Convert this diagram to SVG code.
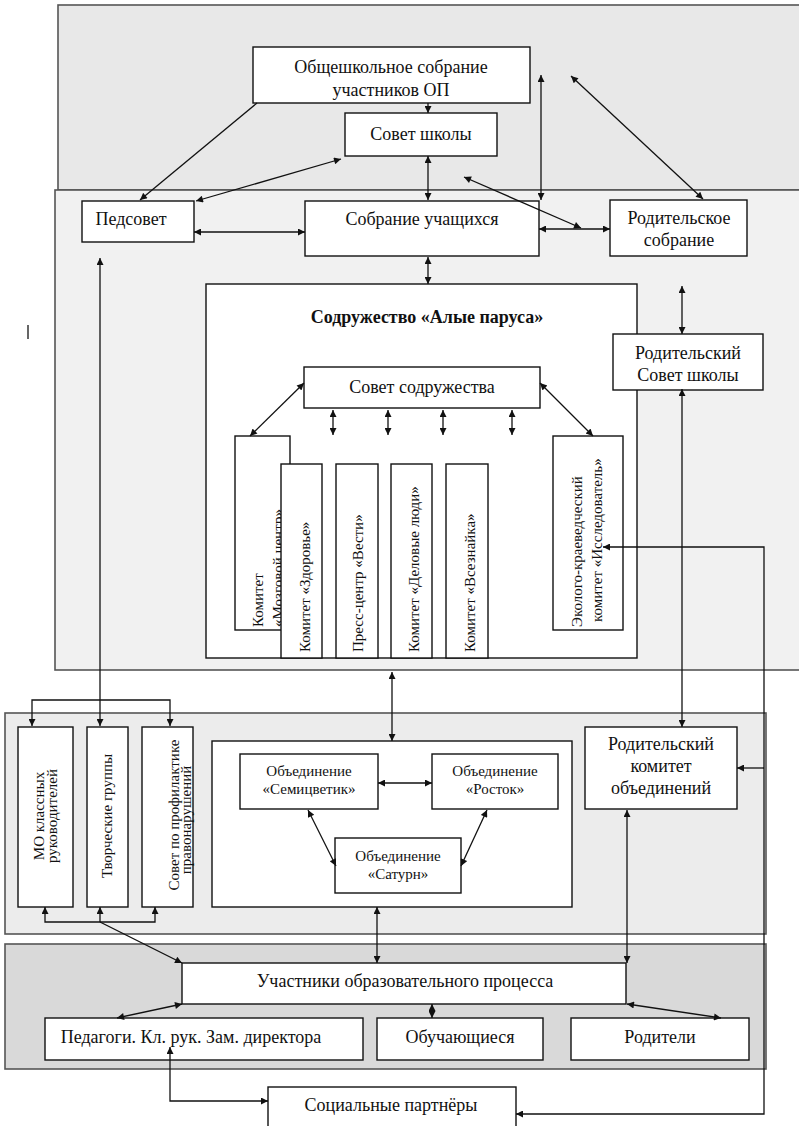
<svg xmlns="http://www.w3.org/2000/svg" width="799" height="1126" viewBox="0 0 799 1126">
<style>
.box{fill:#fff;stroke:#111;stroke-width:1.4}
.panel{stroke:#555;stroke-width:1.6}
.t{font-family:"Liberation Serif","Times New Roman",serif;font-size:18px;fill:#111;text-anchor:middle}
.s{font-family:"Liberation Serif","Times New Roman",serif;font-size:15px;fill:#111}
.m{text-anchor:middle}
.b{font-weight:bold;font-size:18px}
.c{fill:none;stroke:#111;stroke-width:1.3}
.d{marker-start:url(#ah);marker-end:url(#ah)}
.e{marker-end:url(#ah)}
</style>
<defs>
<marker id="ah" viewBox="0 0 10 10" refX="10" refY="5" markerWidth="9" markerHeight="7" markerUnits="userSpaceOnUse" orient="auto-start-reverse">
<path d="M0,0 L10,5 L0,10 z" fill="#111"/>
</marker>
</defs>
<rect width="799" height="1126" fill="#fff"/>
<g id="panels">
<rect class="panel" x="58" y="5" width="750" height="185" fill="#e8e8e8"/>
<rect class="panel" x="55" y="190" width="760" height="480" fill="#f1f1f1"/>
<rect class="panel" x="5" y="713" width="761" height="221" fill="#ececec"/>
<rect class="panel" x="5" y="944" width="761" height="125" fill="#d9d9d9"/>
<line x1="28" y1="325" x2="28" y2="339" stroke="#333" stroke-width="1.5"/>
</g>
<g id="n-obshch"><rect class="box" x="253" y="47" width="277" height="56"/><text class="t" x="391" y="73">Общешкольное собрание</text><text class="t" x="391" y="96">участников ОП</text></g>
<g id="n-sovet-shkoly"><rect class="box" x="345" y="113" width="152" height="43"/><text class="t" x="421" y="140">Совет школы</text></g>
<g id="n-pedsovet"><rect class="box" x="82" y="201" width="112" height="41"/><text class="t" x="131" y="225">Педсовет</text></g>
<g id="n-sobranie"><rect class="box" x="305" y="201" width="234" height="55"/><text class="t" x="422" y="225">Собрание учащихся</text></g>
<g id="n-rod-sobr"><rect class="box" x="610" y="200" width="137" height="56"/><text class="t" x="679" y="224">Родительское</text><text class="t" x="679" y="246">собрание</text></g>
<g id="n-sodruzh"><rect class="box" x="206" y="284" width="431" height="374"/><text class="t b" x="427" y="323">Содружество «Алые паруса»</text></g>
<g id="n-rod-sovet"><rect class="box" x="613" y="334" width="150" height="56"/><text class="t" x="688" y="359">Родительский</text><text class="t" x="688" y="381">Совет школы</text></g>
<g id="n-sovet-sodr"><rect class="box" x="304" y="367" width="236" height="41"/><text class="t" x="422" y="393">Совет содружества</text></g>
<g id="n-mozg"><rect class="box" x="235" y="436" width="55" height="194"/><text class="s" transform="translate(263,627) rotate(-90)">Комитет</text><text class="s" transform="translate(283,627) rotate(-90)">«Мозговой центр»</text></g>
<g id="n-zdor"><rect class="box" x="281" y="464" width="41" height="194"/><text class="s" transform="translate(310,652) rotate(-90)">Комитет  «Здоровье»</text></g>
<g id="n-press"><rect class="box" x="336" y="464" width="42" height="194"/><text class="s" transform="translate(363,652) rotate(-90)">Пресс-центр «Вести»</text></g>
<g id="n-delovye"><rect class="box" x="391" y="464" width="41" height="194"/><text class="s" transform="translate(419,652) rotate(-90)">Комитет «Деловые люди»</text></g>
<g id="n-vseznayka"><rect class="box" x="446" y="464" width="42" height="194"/><text class="s" transform="translate(475,652) rotate(-90)">Комитет «Всезнайка»</text></g>
<g id="n-issled"><rect class="box" x="553" y="436" width="70" height="194"/><text class="s" transform="translate(582,627) rotate(-90)">Эколого-краеведческий</text><text class="s" transform="translate(602,622) rotate(-90)">комитет «Исследователь»</text></g>
<g id="n-mo"><rect class="box" x="18" y="727" width="55" height="180"/><text class="s m" transform="translate(44,816) rotate(-90)">МО классных</text><text class="s m" transform="translate(57,816) rotate(-90)">руководителей</text></g>
<g id="n-tvorch"><rect class="box" x="87" y="727" width="41" height="180"/><text class="s m" transform="translate(112,816) rotate(-90)">Творческие группы</text></g>
<g id="n-profil"><rect class="box" x="142" y="727" width="51" height="180"/><text class="s m" transform="translate(179,815) rotate(-90)">Совет по профилактике</text><text class="s m" transform="translate(191,820) rotate(-90)">правонарушений</text></g>
<g id="n-obyed"><rect class="box" x="212" y="741" width="360" height="166"/></g>
<g id="n-semi"><rect class="box" x="240" y="754" width="138" height="55"/><text class="s m" x="309" y="776">Объединение</text><text class="s m" x="309" y="794">«Семицветик»</text></g>
<g id="n-rostok"><rect class="box" x="432" y="754" width="126" height="55"/><text class="s m" x="495" y="776">Объединение</text><text class="s m" x="495" y="794">«Росток»</text></g>
<g id="n-saturn"><rect class="box" x="335" y="838" width="126" height="55"/><text class="s m" x="398" y="861">Объединение</text><text class="s m" x="398" y="879">«Сатурн»</text></g>
<g id="n-rod-kom"><rect class="box" x="585" y="727" width="152" height="82"/><text class="t" x="661" y="750">Родительский</text><text class="t" x="661" y="772">комитет</text><text class="t" x="661" y="794">объединений</text></g>
<g id="n-uchast"><rect class="box" x="182" y="963" width="444" height="41"/><text class="t" x="405" y="987">Участники образовательного процесса</text></g>
<g id="n-pedagogi"><rect class="box" x="45" y="1018" width="318" height="42"/><text class="t" x="191" y="1043">Педагоги. Кл. рук. Зам. директора</text></g>
<g id="n-obuch"><rect class="box" x="377" y="1018" width="166" height="42"/><text class="t" x="460" y="1043">Обучающиеся</text></g>
<g id="n-roditeli"><rect class="box" x="571" y="1018" width="178" height="42"/><text class="t" x="660" y="1043">Родители</text></g>
<g id="n-soc"><rect class="box" x="268" y="1087" width="248" height="50"/><text class="t" x="391" y="1111">Социальные партнёры</text></g>
<g id="connectors">
<line class="c e" x1="428" y1="103" x2="428" y2="113"/>
<line class="c e" x1="257" y1="103" x2="140" y2="200"/>
<line class="c d" x1="341" y1="159" x2="196" y2="201"/>
<line class="c d" x1="428" y1="156" x2="428" y2="200"/>
<line class="c d" x1="541" y1="75" x2="541" y2="200"/>
<line class="c d" x1="571" y1="76" x2="703" y2="199"/>
<line class="c d" x1="464" y1="177" x2="581" y2="228"/>
<line class="c d" x1="194" y1="232" x2="305" y2="232"/>
<line class="c d" x1="539" y1="229" x2="610" y2="229"/>
<line class="c d" x1="428" y1="257" x2="428" y2="284"/>
<line class="c d" x1="682" y1="286" x2="682" y2="334"/>
<line class="c d" x1="304" y1="383" x2="250" y2="436"/>
<line class="c d" x1="540" y1="383" x2="593" y2="436"/>
<line class="c d" x1="333" y1="410" x2="333" y2="435"/>
<line class="c d" x1="388" y1="410" x2="388" y2="435"/>
<line class="c d" x1="443" y1="410" x2="443" y2="435"/>
<line class="c d" x1="512" y1="410" x2="512" y2="435"/>
<line class="c d" x1="100" y1="258" x2="100" y2="726"/>
<path class="c d" d="M32,726 V700 H170 V726"/>
<line class="c d" x1="392" y1="672" x2="392" y2="741"/>
<line class="c d" x1="682" y1="389" x2="682" y2="727"/>
<path class="c d" d="M603,547 H764 V1114 H516"/>
<line class="c e" x1="764" y1="768" x2="737" y2="768"/>
<line class="c d" x1="378" y1="783" x2="432" y2="783"/>
<line class="c d" x1="308" y1="810" x2="336" y2="866"/>
<line class="c d" x1="487" y1="810" x2="461" y2="866"/>
<path class="c d" d="M45,907 V922 H155 V907"/>
<line class="c e" x1="100" y1="922" x2="100" y2="907"/>
<line class="c e" x1="100" y1="922" x2="182" y2="963"/>
<line class="c d" x1="377" y1="907" x2="377" y2="963"/>
<line class="c d" x1="627" y1="810" x2="627" y2="963"/>
<line class="c d" x1="182" y1="1004" x2="117" y2="1018"/>
<line class="c d" x1="432" y1="1004" x2="432" y2="1018"/>
<line class="c d" x1="627" y1="1004" x2="721" y2="1018"/>
<path class="c d" d="M170,1047 V1101 H268"/>
</g>
</svg>
